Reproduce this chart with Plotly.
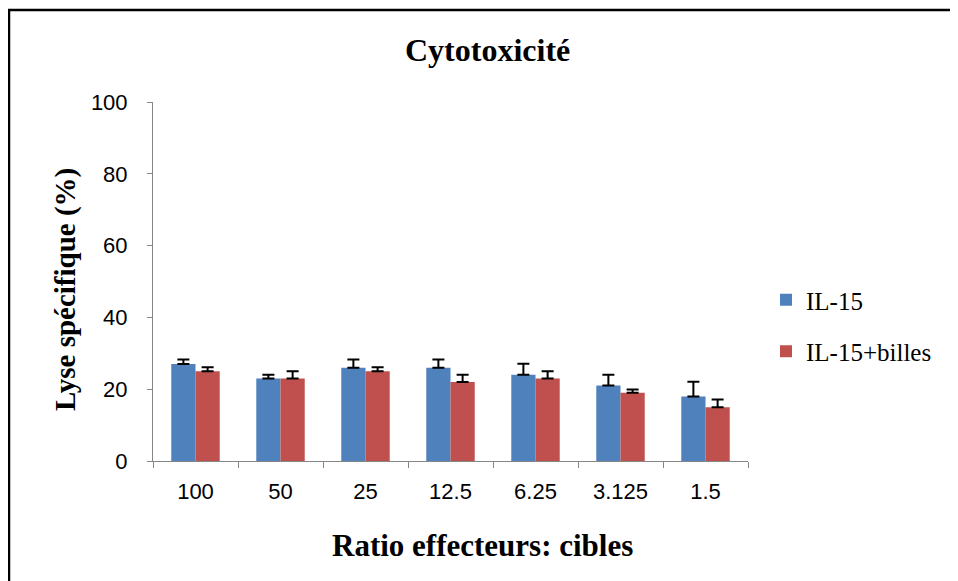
import plotly.graph_objects as go

categories = ["100", "50", "25", "12.5", "6.25", "3.125", "1.5"]
il15 = [27, 23, 26, 26, 24, 21, 18]
il15_err = [1.3, 1.0, 2.3, 2.3, 3.1, 3.0, 4.1]
il15_billes = [25, 23, 25, 22, 23, 19, 15]
il15_billes_err = [1.1, 2.0, 1.1, 2.0, 2.0, 0.9, 2.1]
series_names = ["IL-15", "IL-15+billes"]
colors = ["#4F81BD", "#C0504D"]

# page has an 8px body margin; figure sized so it fits in the 958x581 window
OFF = 8
W, H = 950, 573
L, R, T, B = 153 - OFF, 210, 102 - OFF, 120

fig = go.Figure()
for name, vals, errs, col in [
    (series_names[0], il15, il15_err, colors[0]),
    (series_names[1], il15_billes, il15_billes_err, colors[1]),
]:
    fig.add_trace(go.Bar(
        x=categories, y=vals, name=name, marker_color=col, legendgroup=name,
        marker_line_width=0,
        error_y=dict(type="data", symmetric=False, array=errs,
                     arrayminus=[0] * len(errs), color="black",
                     thickness=2, width=6),
    ))

pw = W - L - R
ph = H - T - B
def px_x(p):
    return (p - OFF - L) / pw
def px_y(p):
    return (H - B - (p - OFF)) / ph

fig.update_layout(
    width=W, height=H,
    margin=dict(l=L, r=R, t=T, b=B),
    paper_bgcolor="white", plot_bgcolor="white",
    barmode="group", bargap=0.43, bargroupgap=0,
    showlegend=True,
    legend=dict(x=px_x(766), y=px_y(277), xanchor="left", yanchor="top",
                font=dict(family="Liberation Serif", size=25, color="black"),
                tracegroupgap=16, itemwidth=30, bgcolor="rgba(0,0,0,0)"),
    xaxis=dict(type="category", showline=True, linecolor="#868686", linewidth=1,
               ticks="outside", ticklen=6, tickcolor="#868686", tickson="boundaries",
               tickfont=dict(family="Liberation Sans", size=22, color="black"),
               ticklabelstandoff=11,
               showgrid=False, zeroline=False),
    yaxis=dict(range=[0, 100], dtick=20, showline=True, linecolor="#868686", linewidth=1,
               ticks="outside", ticklen=5, tickcolor="#868686",
               tickfont=dict(family="Liberation Sans", size=22, color="black"),
               ticklabelstandoff=15,
               showgrid=False, zeroline=False),
    annotations=[
        dict(text="<b>Cytotoxicité</b>", x=px_x(487), y=px_y(50), xref="paper", yref="paper",
             xanchor="center", yanchor="middle",
             showarrow=False, font=dict(family="Liberation Serif", size=32, color="black")),
        dict(text="<b>Ratio effecteurs: cibles</b>", x=px_x(482), y=px_y(545), xref="paper", yref="paper",
             xanchor="center", yanchor="middle",
             showarrow=False, font=dict(family="Liberation Serif", size=31, color="black")),
        dict(text="<b>Lyse spécifique (%)</b>", x=px_x(65), y=px_y(290), xref="paper", yref="paper",
             xanchor="center", yanchor="middle",
             showarrow=False, textangle=-90, font=dict(family="Liberation Serif", size=29, color="black")),
    ],
    shapes=[
        dict(type="rect", xref="paper", yref="paper",
             x0=px_x(9), y0=px_y(620), x1=px_x(990), y1=px_y(10),
             line=dict(color="black", width=2.5), fillcolor="rgba(0,0,0,0)", layer="below"),
    ],
)

fig.write_html("out.html")
